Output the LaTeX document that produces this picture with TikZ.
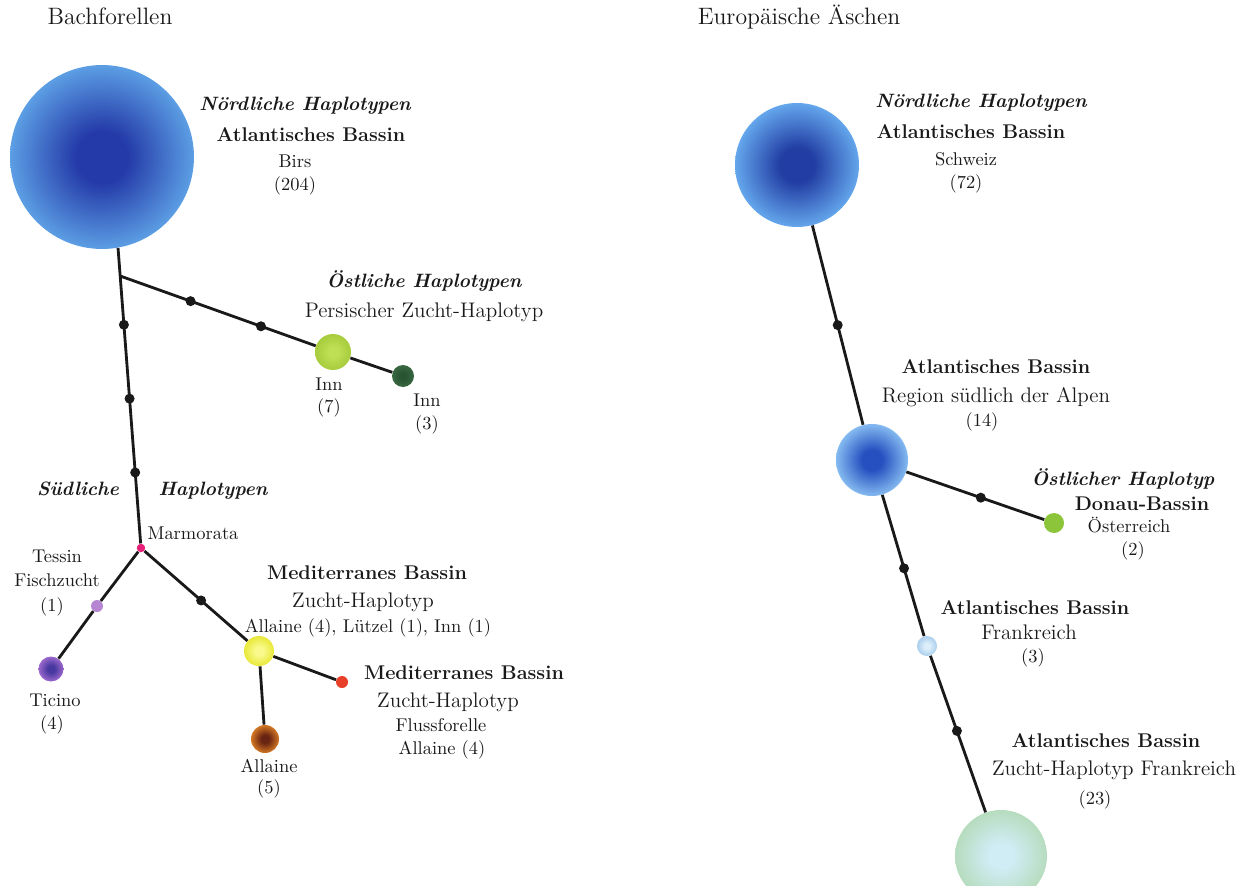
\documentclass[tikz,border=0pt]{standalone}
\usepackage{fontspec}
\usepackage{tikz}
\usetikzlibrary{positioning}
\usepackage{xcolor}

\definecolor{birsIn}{RGB}{36,58,168}
\definecolor{birsOut}{RGB}{92,158,228}
\definecolor{chIn}{RGB}{34,62,164}
\definecolor{chOut}{RGB}{100,166,236}
\definecolor{alpIn}{RGB}{38,80,192}
\definecolor{alpOut}{RGB}{132,186,240}
\definecolor{innA}{RGB}{166,204,60}
\definecolor{innAin}{RGB}{190,222,84}
\definecolor{innB}{RGB}{58,104,66}
\definecolor{innBin}{RGB}{40,84,50}
\definecolor{marmC}{RGB}{232,32,122}
\definecolor{tesC}{RGB}{182,134,210}
\definecolor{ticIn}{RGB}{70,56,160}
\definecolor{ticOut}{RGB}{156,104,204}
\definecolor{yelIn}{RGB}{250,250,140}
\definecolor{yelOut}{RGB}{232,232,56}
\definecolor{redC}{RGB}{232,64,40}
\definecolor{brIn}{RGB}{104,36,18}
\definecolor{brOut}{RGB}{212,120,36}
\definecolor{frIn}{RGB}{220,238,250}
\definecolor{frOut}{RGB}{170,206,236}
\definecolor{donC}{RGB}{140,196,58}
\definecolor{zuIn}{RGB}{208,236,244}
\definecolor{zuOut}{RGB}{182,220,190}

\makeatletter
\pgfdeclareradialshading[tikz@radial@inner,tikz@radial@outer]{soft}{\pgfpoint{0bp}{0bp}}%
  {color(0bp)=(tikz@radial@inner);color(7bp)=(tikz@radial@inner);%
   color(25bp)=(tikz@radial@outer);color(50bp)=(tikz@radial@outer)}
\makeatother

\tikzset{
  hub/.style={circle, inner sep=0pt, minimum size=#1},
  ball/.style 2 args={inner color=#1, outer color=#2, shading=soft},
  mut/.style={circle, fill=black!90, inner sep=0pt, minimum size=.2cm},
  link/.style={line width=1.6pt, draw=black!90},
  lbl/.style={text=black!90, inner sep=0pt, text height=1.6ex, text depth=.4ex},
  ttl/.style={lbl, font=\fontsize{13.5}{15}\selectfont},
  grp/.style={lbl, font=\fontsize{11}{13}\selectfont\bfseries\itshape},
  bas/.style={lbl, font=\fontsize{11.3}{13}\selectfont\bfseries},
  sub/.style={lbl, font=\fontsize{12}{14}\selectfont},
  loc/.style={lbl, font=\fontsize{10.5}{12}\selectfont},
}

\begin{document}
\begin{tikzpicture}[x=.02cm, y=-.02cm]
  \useasboundingbox (0,0) rectangle (1253,885);

  % Bachforellen
  \node[ttl] (ttlL) at (110,20) {Bachforellen};
  \node[hub=3.68cm, ball={birsIn}{birsOut}] (birs) at (102,157) {};
  \node[hub=.72cm, ball={innAin}{innA}] (inn7) at (333,352) {};
  \node[hub=.44cm, ball={innBin}{innB}] (inn3) at (403,376) {};
  \node[hub=.17cm, fill=marmC] (marm) at (141,548) {};
  \node[hub=.24cm, fill=tesC] (tes) at (97,606) {};
  \node[hub=.5cm, ball={ticIn}{ticOut}] (tic) at (51,669) {};
  \node[hub=.6cm, ball={yelIn}{yelOut}] (yel) at (259,651) {};
  \node[hub=.24cm, fill=redC] (fluss) at (342,682) {};
  \node[hub=.56cm, ball={brIn}{brOut}] (alla) at (265,739) {};

  \draw[link] (birs.-80) -- coordinate[pos=.095] (fork)
      node[mut,pos=.26] {} node[mut,pos=.51] {} node[mut,pos=.76] {} (marm);
  \draw[link] (fork) -- node[mut,pos=.36] {} node[mut,pos=.72] {} (inn7) -- (inn3);
  \draw[link] (marm) -- (tes) -- (tic);
  \draw[link] (marm) -- node[mut,pos=.55] {} (yel);
  \draw[link] (yel) -- (fluss);
  \draw[link] (yel) -- (alla);

  \node[grp] (nL1) at (305,106) {Nördliche Haplotypen};
  \node[bas] (nL2) at (311,137) {Atlantisches Bassin};
  \node[loc] (nL3) at (295,163) {Birs};
  \node[loc] (nL4) at (295,186) {(204)};
  \node[grp] (oL1) at (424,283) {Östliche Haplotypen};
  \node[sub] (oL2) at (424,313) {Persischer Zucht-Haplotyp};
  \node[loc] (i7a) at (329,386) {Inn};
  \node[loc] (i7b) at (329,408) {(7)};
  \node[loc] (i3a) at (427,402) {Inn};
  \node[loc] (i3b) at (427,425) {(3)};
  \node[grp] (sL1) at (78,491) {Südliche};
  \node[grp] (sL2) at (213,491) {Haplotypen};
  \node[loc] (mL) at (193,535) {Marmorata};
  \node[loc] (tL1) at (57,558) {Tessin};
  \node[loc] (tL2) at (57,582) {Fischzucht};
  \node[loc] (tL3) at (52,607) {(1)};
  \node[loc] (tcL1) at (55,702) {Ticino};
  \node[loc] (tcL2) at (52,725) {(4)};
  \node[bas] (mA1) at (367,575) {Mediterranes Bassin};
  \node[sub] (mA2) at (363,603) {Zucht-Haplotyp};
  \node[loc] (mA3) at (368,628) {Allaine (4), Lützel (1), Inn (1)};
  \node[bas] (mB1) at (464,675) {Mediterranes Bassin};
  \node[sub] (mB2) at (448,703) {Zucht-Haplotyp};
  \node[loc] (mB3) at (441,727) {Flussforelle};
  \node[loc] (mB4) at (442,750) {Allaine (4)};
  \node[loc] (aL1) at (269,768) {Allaine};
  \node[loc] (aL2) at (269,789) {(5)};

  % Europaeische Aeschen
  \node[ttl] (ttlR) at (799,20) {Europäische Äschen};
  \node[hub=2.48cm, ball={chIn}{chOut}] (ch) at (797,165) {};
  \node[hub=1.44cm, ball={alpIn}{alpOut}] (alp) at (872,460) {};
  \node[hub=.4cm, fill=donC] (don) at (1054,523) {};
  \node[hub=.4cm, ball={frIn}{frOut}] (fr) at (927,646) {};
  \node[hub=1.84cm, ball={zuIn}{zuOut}] (zu) at (1001,856) {};

  \draw[link] (ch) -- node[mut,pos=.5] {} (alp);
  \draw[link] (alp) -- node[mut,pos=.54] {} (don);
  \draw[link] (alp) -- node[mut,pos=.52] {} (fr);
  \draw[link] (fr) -- node[mut,pos=.48] {} (zu);

  \node[grp] (nR1) at (981,103) {Nördliche Haplotypen};
  \node[bas] (nR2) at (971,134) {Atlantisches Bassin};
  \node[loc] (nR3) at (966,161) {Schweiz};
  \node[loc] (nR4) at (966,184) {(72)};
  \node[bas] (aR1) at (996,369) {Atlantisches Bassin};
  \node[sub] (aR2) at (996,398) {Region südlich der Alpen};
  \node[loc] (aR3) at (982,422) {(14)};
  \node[grp] (dR1) at (1123,481) {Östlicher Haplotyp};
  \node[bas] (dR2) at (1142,506) {Donau-Bassin};
  \node[loc] (dR3) at (1129,528) {Österreich};
  \node[loc] (dR4) at (1133,551) {(2)};
  \node[bas] (fR1) at (1035,610) {Atlantisches Bassin};
  \node[sub] (fR2) at (1029,635) {Frankreich};
  \node[loc] (fR3) at (1033,658) {(3)};
  \node[bas] (zR1) at (1106,743) {Atlantisches Bassin};
  \node[sub] (zR2) at (1114,771) {Zucht-Haplotyp Frankreich};
  \node[loc] (zR3) at (1095,800) {(23)};
\end{tikzpicture}
\end{document}
